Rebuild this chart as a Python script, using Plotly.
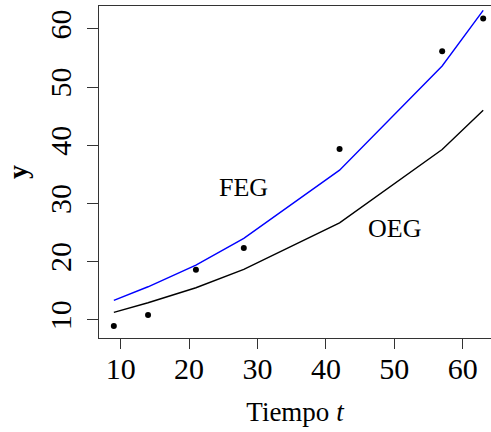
import plotly.graph_objects as go

# Observed data and the two fitted growth curves
tiempo = [9, 14, 21, 28, 42, 57, 63]
y_obs = [8.92, 10.81, 18.59, 22.32, 39.38, 56.17, 61.79]
y_feg = [13.33, 15.67, 19.40, 23.99, 35.72, 53.64, 63.21]
y_oeg = [11.27, 12.92, 15.50, 18.66, 26.67, 39.28, 46.03]

x_ticks = [10, 20, 30, 40, 50, 60]
y_ticks = [10, 20, 30, 40, 50, 60]

serif = "Liberation Serif"

fig = go.Figure()
fig.add_trace(go.Scatter(x=tiempo, y=y_feg, mode="lines",
                         line=dict(color="#0000ff", width=1.4), name="FEG"))
fig.add_trace(go.Scatter(x=tiempo, y=y_oeg, mode="lines",
                         line=dict(color="black", width=1.4), name="OEG"))
fig.add_trace(go.Scatter(x=tiempo, y=y_obs, mode="markers",
                         marker=dict(color="black", size=6), name="y"))

fig.add_annotation(x=28, y=32.7, text="FEG", showarrow=False,
                   font=dict(family=serif, size=26, color="black"))
fig.add_annotation(x=50, y=25.75, text="OEG", showarrow=False,
                   font=dict(family=serif, size=26, color="black"))

fig.update_layout(
    width=491, height=432,
    margin=dict(l=99, r=0, t=6, b=94),
    paper_bgcolor="white", plot_bgcolor="white",
    showlegend=False,
    font=dict(family=serif, color="black"),
)
fig.update_xaxes(
    range=[6.83, 64.14], tickvals=x_ticks, ticktext=[str(v) for v in x_ticks],
    showgrid=False, zeroline=False,
    showline=True, linecolor="#333333", linewidth=1, mirror=True,
    ticks="outside", ticklen=10, tickcolor="#333333",
    tickfont=dict(family=serif, size=30), ticklabelstandoff=-6,
    title=dict(text="Tiempo <i>t</i>", font=dict(family=serif, size=27), standoff=18),
)
fig.update_yaxes(
    range=[6.86, 63.95], tickvals=y_ticks, ticktext=[str(v) for v in y_ticks],
    showgrid=False, zeroline=False,
    showline=True, linecolor="#333333", linewidth=1,
    ticks="outside", ticklen=11, tickcolor="#333333", tickangle=-90,
    tickfont=dict(family=serif, size=30), ticklabelstandoff=4,
    title=dict(text="<b>y</b>", font=dict(family=serif, size=28), standoff=8),
)

fig.write_html("out.html")
